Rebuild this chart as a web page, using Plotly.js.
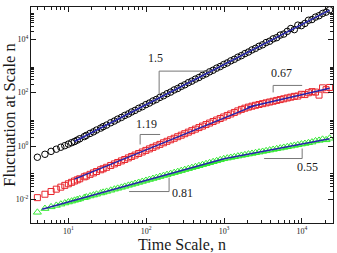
<!DOCTYPE html>
<html>
<head>
<meta charset="utf-8">
<script src="https://cdn.plot.ly/plotly-3.0.1.min.js"></script>
<style>
  html, body { margin: 0; padding: 0; background: #fff; }
  #chart { width: 337px; height: 253px; }
</style>
</head>
<body>
<div id="chart"></div>
<script>
// Time scales n (window sizes) shared by the three fluctuation curves
const timeScale = [4, 5, 6, 7, 8, 9, 10, 11, 12, 13, 14, 16, 17, 19, 21, 23, 26, 28, 31, 35,
  39, 43, 48, 53, 59, 65, 72, 80, 89, 99, 110, 122, 135, 150, 167, 185, 206, 229, 254, 282,
  313, 348, 386, 429, 476, 529, 587, 652, 724, 804, 893, 991, 1100, 1221, 1356, 1505, 1671,
  1855, 2059, 2286, 2538, 2817, 3127, 3471, 3853, 4277, 4748, 5270, 5850, 6494, 7208, 8001,
  8881, 9858, 10943, 12147, 13483, 14966, 16612, 18440, 20468, 22720];

// Fluctuation F(n), upper series (circles)
const fluctCircles = [0.380, 0.49, 0.63, 0.76, 0.90, 1.03, 1.18, 1.33, 1.47, 1.66, 1.87, 2.25,
  2.49, 2.96, 3.38, 3.95, 4.68, 5.30, 6.07, 7.41, 8.58, 10.1, 11.7, 13.9, 15.9, 18.8, 21.5,
  25.7, 29.5, 35.4, 40.5, 48.3, 55.0, 65.9, 75.9, 90.2, 104, 125, 142, 170, 195, 234, 267,
  318, 365, 437, 500, 596, 685, 818, 938, 1120, 1280, 1530, 1750, 2100, 2400, 2870, 3280,
  3930, 4500, 5380, 6120, 7400, 8300, 10200, 11300, 14100, 15400, 19400, 24800, 22600,
  33200, 31800, 38500, 50500, 53800, 66500, 74800, 91000, 102000, 124000];

// Fluctuation F(n), middle series (squares)
const fluctSquares = [0.0117, 0.0157, 0.0199, 0.0243, 0.0289, 0.0337, 0.0386, 0.0438, 0.0490,
  0.0542, 0.0594, 0.0702, 0.0757, 0.0871, 0.0986, 0.111, 0.129, 0.141, 0.160, 0.187, 0.214,
  0.242, 0.277, 0.313, 0.359, 0.406, 0.459, 0.525, 0.598, 0.685, 0.780, 0.889, 1.01, 1.15,
  1.32, 1.50, 1.71, 1.95, 2.23, 2.54, 2.89, 3.30, 3.76, 4.28, 4.89, 5.56, 6.35, 7.23, 8.24,
  9.40, 10.7, 12.2, 13.9, 15.8, 18.0, 20.6, 23.4, 26.0, 28.5, 30.9, 33.4, 35.8, 38.4, 41.1,
  44.2, 47.3, 50.8, 54.5, 58.3, 62.7, 67.1, 71.9, 74.0, 86.0, 84.0, 98.0, 108, 104, 80.0,
  150, 128, 155];

// Fluctuation F(n), lower series (triangles)
const fluctTriangles = [0.00331, 0.00457, 0.00530, 0.00600, 0.00668, 0.00736, 0.00802,
  0.00865, 0.00929, 0.00991, 0.0105, 0.0117, 0.0123, 0.0135, 0.0146, 0.0157, 0.0174, 0.0185,
  0.0200, 0.0221, 0.0242, 0.0261, 0.0284, 0.0309, 0.0337, 0.0365, 0.0396, 0.0432, 0.0471,
  0.0514, 0.0558, 0.0608, 0.0659, 0.0719, 0.0785, 0.0851, 0.0929, 0.101, 0.110, 0.120, 0.131,
  0.142, 0.155, 0.168, 0.183, 0.200, 0.217, 0.236, 0.258, 0.280, 0.305, 0.332, 0.352, 0.373,
  0.395, 0.419, 0.444, 0.469, 0.498, 0.526, 0.558, 0.590, 0.625, 0.662, 0.702, 0.743, 0.787,
  0.834, 0.883, 0.936, 0.991, 1.05, 1.11, 1.18, 1.24, 1.32, 1.40, 1.55, 1.62, 1.78, 1.70, 1.95];

// Power-law fit segments: end points (n, F) and fitted exponents
const fitCirclesN = [12, 22720];
const fitCirclesF = [1.474, 121300];
const fitSquaresAN = [12, 2500];
const fitSquaresAF = [0.0575, 33.1];
const fitSquaresBN = [2000, 22720];
const fitSquaresBF = [28.4, 145];
const fitTrianglesAN = [4.6, 1000];
const fitTrianglesAF = [0.00428, 0.334];
const fitTrianglesBN = [1000, 22720];
const fitTrianglesBF = [0.334, 1.86];
const slopeLabels = ['1.5', '1.19', '0.67', '0.81', '0.55'];

// Axis tick values and labels
const xTickVals = [10, 100, 1000, 10000];
const xTickText = ['10<sup>1</sup>', '10<sup>2</sup>', '10<sup>3</sup>', '10<sup>4</sup>'];
const yTickVals = [0.01, 1, 100, 10000];
const yTickText = ['10<sup>-2</sup>', '10<sup>0</sup>', '10<sup>2</sup>', '10<sup>4</sup>'];

const xMinor = [];
[1, 10, 100, 1000, 10000].forEach(d => {
  for (let k = 2; k <= 9; k++) { if (k * d >= 4 && k * d <= 24000) xMinor.push(k * d); }
});
const yMinor = [];
[0.01, 1, 100, 10000].forEach(d => {
  for (let k = 2; k <= 9; k++) yMinor.push(k * d);
});

const SERIF = 'Liberation Serif, Times New Roman, serif';
const FIT_COLOR = '#2424aa';
const INK = '#1a1a1a';

function markers(y, symbol, color, size) {
  return {
    x: timeScale, y: y, type: 'scatter', mode: 'markers', hoverinfo: 'skip',
    marker: { symbol: symbol, size: size, color: color, line: { color: color, width: 1 } }
  };
}
function fit(x, y) {
  return { x: x, y: y, type: 'scatter', mode: 'lines', hoverinfo: 'skip',
    line: { color: FIT_COLOR, width: 1.5 } };
}

const traces = [
  markers(fluctCircles, 'circle-open', '#000000', 6.5),
  markers(fluctSquares, 'square-open', '#e8262d', 6),
  markers(fluctTriangles, 'triangle-up-open', '#33e833', 7),
  fit(fitCirclesN, fitCirclesF),
  fit(fitSquaresAN, fitSquaresAF),
  fit(fitSquaresBN, fitSquaresBF),
  fit(fitTrianglesAN, fitTrianglesAF),
  fit(fitTrianglesBN, fitTrianglesBF)
];

// Slope guides: [horizontal from x, to x, at y] and [vertical at x, from y, to y]
const guides = [
  { h: [146.6, 662, 633], v: [146.6, 633, 84.9] },
  { h: [83.6, 151, 2.70], v: [83.6, 2.70, 1.14] },
  { h: [4276, 10090, 184.5], v: [4276, 184.5, 100.9] },
  { h: [60.3, 196.8, 0.01977], v: [196.8, 0.01977, 0.0661] },
  { h: [3273, 10090, 0.340], v: [10090, 0.340, 0.806] }
];
const shapes = [];
guides.forEach(g => {
  shapes.push({ type: 'line', xref: 'x', yref: 'y', x0: g.h[0], x1: g.h[1], y0: g.h[2], y1: g.h[2],
    line: { color: '#777', width: 1 } });
  shapes.push({ type: 'line', xref: 'x', yref: 'y', x0: g.v[0], x1: g.v[0], y0: g.v[1], y1: g.v[2],
    line: { color: '#777', width: 1 } });
});

// Label positions in log10 axis units
const labelPos = [[2.114, 3.30], [2.005, 0.805], [3.734, 2.715], [2.461, -1.76], [4.075, -0.786]];
const annotations = slopeLabels.map((t, i) => ({
  text: t, x: labelPos[i][0], y: labelPos[i][1], xref: 'x', yref: 'y',
  showarrow: false, font: { family: SERIF, size: 12, color: INK }
}));

const axisCommon = {
  type: 'log', showline: true, linecolor: INK, linewidth: 1, mirror: 'allticks',
  ticks: 'inside', ticklen: 5, tickwidth: 1, tickcolor: INK, showgrid: false, zeroline: false,
  tickmode: 'array', tickfont: { family: SERIF, size: 8, color: INK },
  minor: { ticks: 'inside', ticklen: 3, tickwidth: 1, tickcolor: INK, tickmode: 'array', showgrid: false }
};

const layout = {
  width: 337, height: 253,
  margin: { l: 31, r: 4, t: 7, b: 30 },
  paper_bgcolor: '#fff', plot_bgcolor: '#fff',
  showlegend: false,
  font: { family: SERIF, color: INK },
  xaxis: Object.assign({}, axisCommon, {
    range: [0.52, 4.40], tickvals: xTickVals, ticktext: xTickText,
    minor: Object.assign({}, axisCommon.minor, { tickvals: xMinor }),
    title: { text: 'Time Scale, n', font: { family: SERIF, size: 16, color: INK }, standoff: 0 }
  }),
  yaxis: Object.assign({}, axisCommon, {
    range: [-2.88, 5.2], tickvals: yTickVals, ticktext: yTickText,
    minor: Object.assign({}, axisCommon.minor, { tickvals: yMinor }),
    title: { text: 'Fluctuation at Scale n', font: { family: SERIF, size: 16.5, color: INK }, standoff: 4 }
  }),
  shapes: shapes,
  annotations: annotations
};

Plotly.newPlot('chart', traces, layout, { staticPlot: true, displayModeBar: false });
</script>
</body>
</html>
